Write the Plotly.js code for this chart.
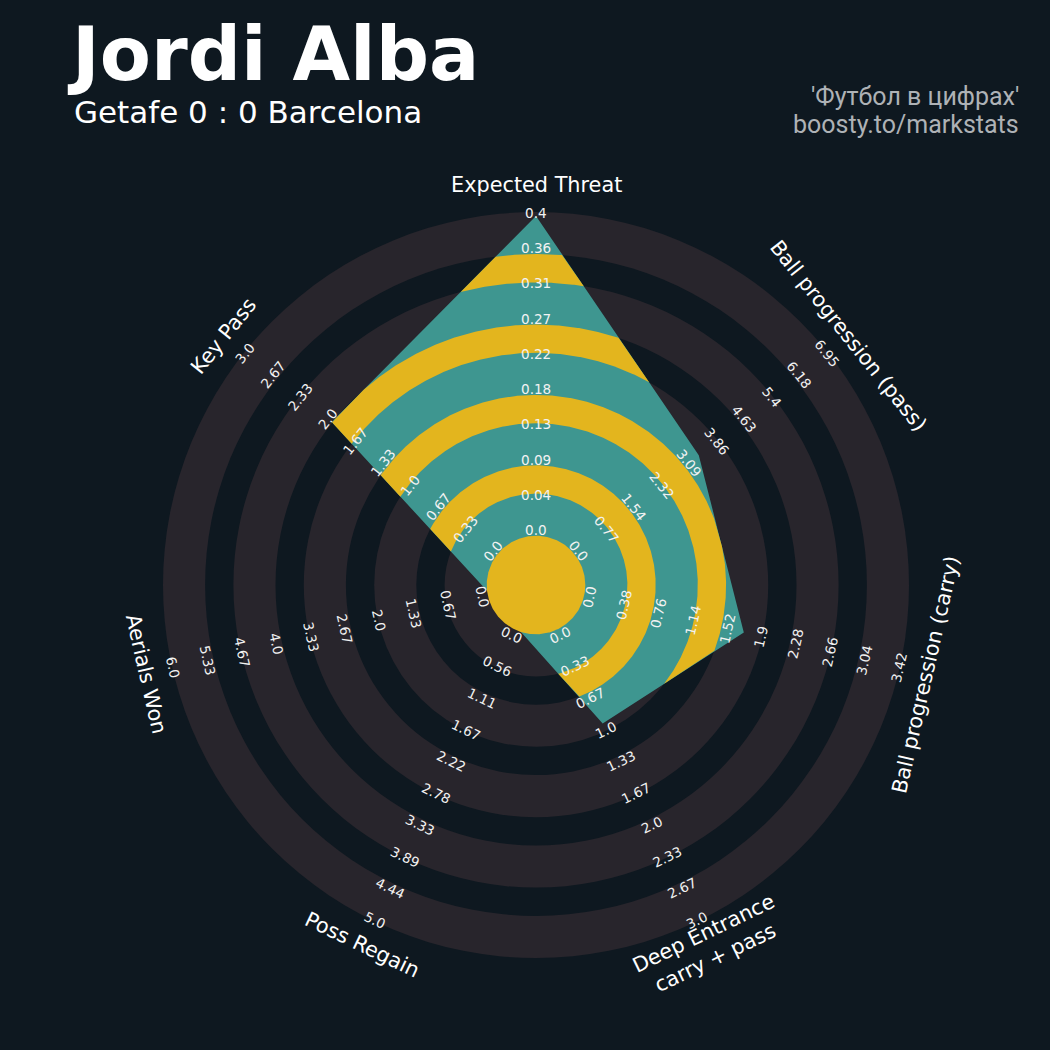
<!DOCTYPE html>
<html>
<head>
<meta charset="utf-8">
<script src="https://cdn.plot.ly/plotly-3.0.1.min.js"></script>
<style>html,body{margin:0;padding:0;background:#0e1820;}</style>
</head>
<body>
<div id="chart" style="width:1050px;height:1050px;"></div>
<script>
// Radar data: one entry per axis, clockwise from the top
const params = ['Expected Threat', 'Ball progression (pass)', 'Ball progression (carry)',
                'Deep Entrance<br>carry + pass', 'Poss Regain', 'Aerials Won', 'Key Pass'];
const values = [0.4, 3.49, 1.77, 1, 0, 0, 2];
const lowRange = [0, 0, 0, 0, 0, 0, 0];
const highRange = [0.4, 6.95, 3.42, 3, 5, 6, 3];
const rangeLabels = [
  ['0.0', '0.04', '0.09', '0.13', '0.18', '0.22', '0.27', '0.31', '0.36', '0.4'],
  ['0.0', '0.77', '1.54', '2.32', '3.09', '3.86', '4.63', '5.4', '6.18', '6.95'],
  ['0.0', '0.38', '0.76', '1.14', '1.52', '1.9', '2.28', '2.66', '3.04', '3.42'],
  ['0.0', '0.33', '0.67', '1.0', '1.33', '1.67', '2.0', '2.33', '2.67', '3.0'],
  ['0.0', '0.56', '1.11', '1.67', '2.22', '2.78', '3.33', '3.89', '4.44', '5.0'],
  ['0.0', '0.67', '1.33', '2.0', '2.67', '3.33', '4.0', '4.67', '5.33', '6.0'],
  ['0.0', '0.33', '0.67', '1.0', '1.33', '1.67', '2.0', '2.33', '2.67', '3.0']
];
const playerName = 'Jordi Alba';
const matchLine = 'Getafe 0 : 0 Barcelona';
const creditLines = ["'Футбол в цифрах'", 'boosty.to/markstats'];

// Colours
const BG = '#0e1820', RING = '#28252c', TEAL = '#3e9690', GOLD = '#e3b51e';

// Geometry (axis units equal screen pixels, centre of the radar at the origin)
const CX = 536, CY = 585;
const RING_EDGES = [49.3, 91.4, 119.7, 161.8, 190.1, 232.2, 260.5, 302.6, 330.9, 373.0];
const VAL_R0 = 46, VAL_R1 = 369;      // radius of the minimum / maximum of each range
const LAB_R0 = 55, LAB_R1 = 372;      // first / last range label radius
const PARAM_R = 400;                  // axis name radius

const n = params.length;
const angles = params.map((_, i) => (90 - i * 360 / n) * Math.PI / 180);

// polygon vertices
const verts = values.map((v, i) => {
  const r = VAL_R0 + (v - lowRange[i]) / (highRange[i] - lowRange[i]) * (VAL_R1 - VAL_R0);
  return [r * Math.cos(angles[i]), r * Math.sin(angles[i])];
});

// distance from the centre to the polygon edge along direction theta
function edgeRadius(theta) {
  const d = [Math.cos(theta), Math.sin(theta)];
  let best = Infinity;
  for (let i = 0; i < n; i++) {
    const p = verts[i], q = verts[(i + 1) % n];
    const e = [q[0] - p[0], q[1] - p[1]];
    const den = d[0] * e[1] - d[1] * e[0];
    if (Math.abs(den) < 1e-12) continue;
    const t = (p[0] * e[1] - p[1] * e[0]) / den;
    const s = (p[0] * d[1] - p[1] * d[0]) / den;
    if (s >= -1e-9 && s <= 1 + 1e-9 && t > 0 && t < best) best = t;
  }
  return best;
}

// sampled angles, including every vertex direction so the corners stay sharp
let thetas = [];
const N = 1440;
for (let k = 0; k < N; k++) thetas.push(2 * Math.PI * k / N);
angles.forEach(a => { let t = a; while (t < 0) t += 2 * Math.PI; thetas.push(t); });
thetas.sort((a, b) => a - b);

function circlePts(r) {
  const x = [], y = [];
  for (let k = 0; k <= 360; k++) {
    const t = 2 * Math.PI * k / 360;
    x.push(r * Math.cos(t)); y.push(r * Math.sin(t));
  }
  return {x, y};
}

// band between radii a and b clipped to the polygon, split into the
// angular runs where the polygon actually reaches past the inner radius
function clippedBand(a, b) {
  const inside = thetas.map(t => edgeRadius(t) > a + 1e-6);
  const m = thetas.length;
  if (inside.every(v => v)) {
    const x = [], y = [];
    const loop = thetas.concat([thetas[0] + 2 * Math.PI]);
    loop.forEach(t => { const r = Math.min(b, edgeRadius(t)); x.push(r * Math.cos(t)); y.push(r * Math.sin(t)); });
    for (let k = loop.length - 1; k >= 0; k--) { x.push(a * Math.cos(loop[k])); y.push(a * Math.sin(loop[k])); }
    return [{x, y}];
  }
  // start at an outside sample so runs don't wrap around
  let start = inside.findIndex(v => !v);
  const runs = [];
  let cur = null;
  for (let j = 0; j <= m; j++) {
    const idx = (start + j) % m;
    let t = thetas[idx];
    if (start + j >= m) t += 2 * Math.PI;
    if (inside[idx] && j < m) {
      if (!cur) cur = [];
      cur.push(t);
    } else if (cur) { runs.push(cur); cur = null; }
  }
  return runs.map(run => {
    // find the exact angles where the edge crosses radius a at both ends
    const step = 2 * Math.PI / N;
    const refine = (tin, tout) => {
      let lo = tin, hi = tout;
      for (let it = 0; it < 40; it++) {
        const mid = (lo + hi) / 2;
        if (edgeRadius(mid) > a) lo = mid; else hi = mid;
      }
      return lo;
    };
    const t0 = refine(run[0], run[0] - step);
    const t1 = refine(run[run.length - 1], run[run.length - 1] + step);
    const ts = [t0].concat(run, [t1]);
    const x = [], y = [];
    ts.forEach(t => { const r = Math.max(a, Math.min(b, edgeRadius(t))); x.push(r * Math.cos(t)); y.push(r * Math.sin(t)); });
    for (let k = ts.length - 1; k >= 0; k--) { x.push(a * Math.cos(ts[k])); y.push(a * Math.sin(ts[k])); }
    return {x, y};
  });
}

const traces = [];
function addFill(pts, color) {
  traces.push({
    type: 'scatter', mode: 'lines', x: pts.x, y: pts.y,
    fill: 'toself', fillcolor: color, line: {width: 0, color: color},
    hoverinfo: 'skip', showlegend: false
  });
}

// background rings: grey rings with dark gaps between them
const shapes = [];
for (let k = RING_EDGES.length - 1; k >= 1; k--) {
  const r = RING_EDGES[k];
  const grey = (RING_EDGES.length - 1 - k) % 2 === 0;
  shapes.push({type: 'circle', xref: 'x', yref: 'y', x0: -r, y0: -r, x1: r, y1: r,
               fillcolor: grey ? RING : BG, line: {width: 0}, layer: 'below'});
}

// radar polygon
addFill({x: verts.map(v => v[0]).concat([verts[0][0]]),
         y: verts.map(v => v[1]).concat([verts[0][1]])}, TEAL);
// gold bands inside the polygon
for (let k = 1; k + 1 < RING_EDGES.length; k += 2) {
  clippedBand(RING_EDGES[k], RING_EDGES[k + 1]).forEach(p => addFill(p, GOLD));
}
// centre circle
addFill(circlePts(RING_EDGES[0]), GOLD);

// text rotation that keeps labels tangential and readable
function textAngle(theta) {
  let rot = theta * 180 / Math.PI - 90;
  while (rot <= -180) rot += 360;
  while (rot > 180) rot -= 360;
  if (rot > 90) rot -= 180;
  if (rot <= -90) rot += 180;
  return -rot;
}

const annotations = [];
angles.forEach((a, i) => {
  const ta = textAngle(a);
  rangeLabels[i].forEach((lab, k) => {
    const r = LAB_R0 + k * (LAB_R1 - LAB_R0) / (rangeLabels[i].length - 1);
    annotations.push({x: r * Math.cos(a), y: r * Math.sin(a), xref: 'x', yref: 'y',
      text: lab, showarrow: false, textangle: ta, xanchor: 'center', yanchor: 'middle',
      font: {family: 'DejaVu Sans', size: 13.6, color: '#f2f2f2'}});
  });
  annotations.push({x: PARAM_R * Math.cos(a), y: PARAM_R * Math.sin(a), xref: 'x', yref: 'y',
    text: params[i], showarrow: false, textangle: ta, xanchor: 'center', yanchor: 'middle',
    font: {family: 'DejaVu Sans', size: 20.8, color: '#ffffff'}});
});

annotations.push({x: 65 - CX, y: CY - 54, xref: 'x', yref: 'y', text: playerName,
  showarrow: false, xanchor: 'left', yanchor: 'middle',
  font: {family: 'DejaVu Sans', size: 74.5, weight: 'bold', color: '#ffffff'}});
annotations.push({x: 72 - CX, y: CY - 112, xref: 'x', yref: 'y', text: matchLine,
  showarrow: false, xanchor: 'left', yanchor: 'middle',
  font: {family: 'DejaVu Sans', size: 31, color: '#ffffff'}});
creditLines.forEach((line, j) => {
  annotations.push({x: 1021 - CX, y: CY - (96 + 28 * j), xref: 'x', yref: 'y', text: line,
    showarrow: false, xanchor: 'right', yanchor: 'middle', align: 'right',
    font: {family: 'Roboto', size: 25, color: '#aeb2b6'}});
});

const layout = {
  width: 1050, height: 1050,
  margin: {l: 0, r: 0, t: 0, b: 0, pad: 0},
  paper_bgcolor: BG, plot_bgcolor: BG,
  xaxis: {range: [-CX, 1050 - CX], visible: false, fixedrange: true},
  yaxis: {range: [CY - 1050, CY], visible: false, fixedrange: true},
  shapes: shapes, annotations: annotations, showlegend: false, hovermode: false
};

Plotly.newPlot('chart', traces, layout, {displayModeBar: false, staticPlot: true});
</script>
</body>
</html>
